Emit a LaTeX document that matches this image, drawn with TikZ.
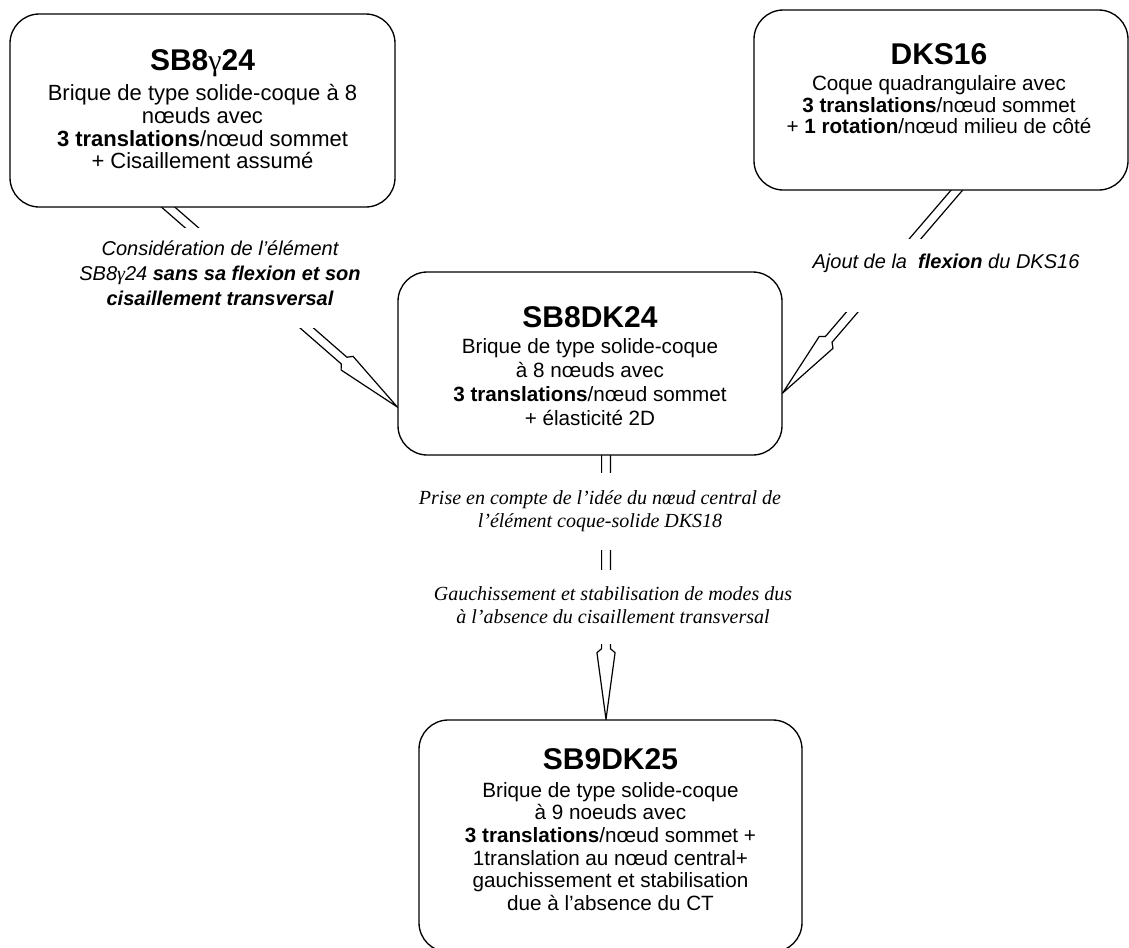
\documentclass[tikz,border=0pt]{standalone}
\usepackage{fontspec}
\setmainfont{Liberation Sans}
\newfontfamily\timesfont{Liberation Serif}
\usetikzlibrary{calc,backgrounds,fit}

\newcommand\arrSW{3.3pt}
\newcommand\arrHW{6.8pt}
\newcommand\arrHN{50pt}
\newcommand\arrHS{53pt}
\newcommand\gam{{\timesfont\mdseries γ}}
\newcommand\titlefont{\fontsize{22.5pt}{22.5pt}\selectfont\bfseries}

\newcommand\hollowarrow[2]{%
  \coordinate (ha-s) at ($(#2)!\arrHS!(#1)$);
  \coordinate (ha-n) at ($(#2)!\arrHN!(#1)$);
  \draw[harrow] ($(#1)!\arrSW!90:(#2)$) -- ($(ha-s)!\arrSW!-90:(#1)$)
    -- ($(ha-n)!\arrHW!-90:(#1)$) -- (#2) -- ($(ha-n)!\arrHW!90:(#1)$)
    -- ($(ha-s)!\arrSW!90:(#1)$) -- ($(#1)!\arrSW!-90:(#2)$);
}

\tikzset{
  box/.style={draw, line width=1pt, rounded corners=22pt, fill=white, inner sep=0pt},
  boxtext/.style={align=center, inner sep=0pt},
  harrow/.style={line width=0.9pt, line join=miter},
  lblsans/.style={fill=white, inner xsep=3pt, inner ysep=0pt, align=center,
     font=\fontsize{15pt}{19pt}\selectfont\itshape},
  lblserif/.style={fill=white, inner xsep=3pt, inner ysep=0pt, align=center,
     font=\fontsize{15pt}{17.25pt}\selectfont\timesfont\itshape},
}

\begin{document}
\begin{tikzpicture}[x=0.75pt, y=-0.75pt]
\useasboundingbox (0,0) rectangle (1129,947);

% boxes
\node[box, fit={(10,14) (395,207)}] (b1) {};
\node[box, fit={(754,10) (1128,190)}] (b2) {};
\node[box, fit={(398,272) (782,455)}] (k24) {};
\node[box, fit={(419,720) (802,952)}] (k25) {};

% box texts
\node[boxtext, anchor=north, font=\fontsize{16.5pt}{17pt}\selectfont] (t1) at (202.5,49)
  {{\titlefont SB8\gam24}\\[6pt] Brique de type solide-coque à 8\\ nœuds avec\\
   \textbf{3 translations}/nœud sommet\\ + Cisaillement assumé};
\node[boxtext, anchor=north, font=\fontsize{15.5pt}{16pt}\selectfont] (t2) at (939,43)
  {{\titlefont DKS16}\\[4pt] Coque quadrangulaire avec\\
   \textbf{3 translations}/nœud sommet\\ + \textbf{1 rotation}/nœud milieu de côté};
\node[boxtext, anchor=north, font=\fontsize{15.5pt}{18pt}\selectfont] (t3) at (590,306)
  {{\titlefont SB8DK24}\\[2pt] Brique de type solide-coque\\ à 8 nœuds avec\\
   \textbf{3 translations}/nœud sommet\\ + élasticité 2D};
\node[boxtext, anchor=north, font=\fontsize{15.5pt}{17pt}\selectfont] (t4) at (610.5,748)
  {{\titlefont SB9DK25}\\[4pt] Brique de type solide-coque\\ à 9 noeuds avec\\
   \textbf{3 translations}/nœud sommet +\\ 1translation au nœud central+\\
   gauchissement et stabilisation\\ due à l’absence du CT};

% arrows (behind boxes and labels)
\coordinate (a1s) at (160,200);
\coordinate (a1e) at ($(k24.west)+(0,43.5)$);
\coordinate (a2s) at (963.5,182.4);
\coordinate (a2e) at ($(k24.east)+(0,29.5)$);
\coordinate (a3s) at (606,448);
\coordinate (a3e) at (k25.north -| a3s);
\begin{scope}[on background layer]
  \hollowarrow{a1s}{a1e}
  \hollowarrow{a2s}{a2e}
  \hollowarrow{a3s}{a3e}
\end{scope}

% labels (white fill hides the arrow shafts behind them)
\node[lblsans, anchor=north] (l1) at (220,228)
  {\rule{0pt}{20.25pt}Considération de l’élément\\
   SB8\gam24 \textbf{sans sa flexion et son}\\
   \rule[-16.5pt]{0pt}{16.5pt}\textbf{cisaillement transversal}};
\node[lblsans, anchor=north] (l2) at (946,239)
  {\rule[-33pt]{0pt}{54.75pt}Ajout de la\ \ \textbf{flexion} du DKS16};
\node[lblserif, anchor=north] (l3) at (600,473)
  {\rule{0pt}{23.25pt}Prise en compte de l’idée du nœud central de\\
   \rule[-17.25pt]{0pt}{17.25pt}l’élément coque-solide DKS18};
\node[lblserif, anchor=north] (l4) at (613,570)
  {\rule{0pt}{22.5pt}Gauchissement et stabilisation de modes dus\\
   \rule[-15.75pt]{0pt}{15.75pt}à l’absence du cisaillement transversal};
\end{tikzpicture}
\end{document}
